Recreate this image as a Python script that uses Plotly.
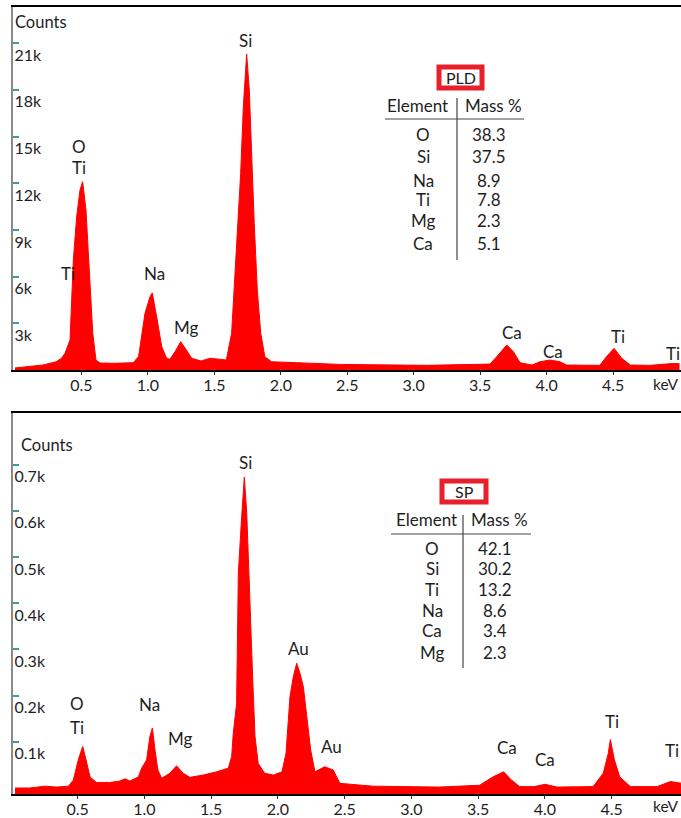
import plotly.graph_objects as go

# ---------------- data ----------------
# PLD spectrum (keV, counts)
pld_kev = [0.0, 0.1, 0.21, 0.31, 0.35, 0.376, 0.414, 0.439, 0.464, 0.489, 0.509, 0.534, 0.559, 0.585,
           0.609, 0.64, 0.75, 0.89, 0.93, 0.978, 1.016, 1.033, 1.066, 1.104, 1.141, 1.166, 1.204, 1.247,
           1.29, 1.33, 1.40, 1.467, 1.54, 1.59, 1.63, 1.655, 1.68, 1.698, 1.718, 1.743, 1.763, 1.781,
           1.80, 1.823, 1.849, 1.88, 1.93, 2.12, 2.445, 3.10, 3.574, 3.624, 3.70, 3.75, 3.80, 3.89,
           3.95, 4.025, 4.10, 4.15, 4.40, 4.45, 4.507, 4.565, 4.63, 4.78, 4.90, 4.95, 5.0]
pld_counts = [130, 220, 320, 530, 750, 1070, 1930, 7070, 9850, 11560, 12100, 10280, 6420, 2380,
              640, 450, 430, 470, 860, 3640, 4710, 4950, 3420, 1500, 750, 690, 1180, 1820,
              1280, 750, 580, 750, 690, 640, 2360, 6210, 10490, 12640, 16910, 20300, 17990, 13700,
              9420, 5140, 2360, 850, 530, 470, 360, 300, 380, 850, 1610, 1180, 470, 320,
              530, 640, 530, 320, 300, 850, 1390, 750, 320, 300, 380, 420, 400]

# SP spectrum (keV, counts)
sp_kev = [0.03, 0.14, 0.255, 0.34, 0.43, 0.467, 0.504, 0.53, 0.537, 0.562, 0.592, 0.64, 0.74, 0.816,
          0.854, 0.89, 0.954, 0.979, 1.016, 1.04, 1.059, 1.079, 1.10, 1.129, 1.19, 1.24, 1.29, 1.34,
          1.44, 1.54, 1.628, 1.653, 1.665, 1.69, 1.703, 1.728, 1.748, 1.766, 1.79, 1.81, 1.828, 1.852,
          1.90, 1.965, 2.03, 2.06, 2.09, 2.115, 2.14, 2.165, 2.19, 2.215, 2.245, 2.277, 2.35, 2.414,
          2.464, 2.71, 3.21, 3.51, 3.61, 3.69, 3.75, 3.81, 3.92, 4.0, 4.09, 4.36, 4.437, 4.474, 4.49,
          4.52, 4.56, 4.64, 4.84, 4.94, 5.03]
sp_counts = [0, 0, 4, 2, 4, 17, 61, 86, 90, 61, 24, 12, 12, 15,
             20, 15, 24, 43, 61, 111, 130, 82, 39, 21, 32, 48, 32, 23,
             28, 35, 43, 68, 118, 183, 465, 587, 673, 595, 385, 241, 111, 53,
             32, 28, 35, 75, 198, 241, 270, 248, 219, 154, 82, 35, 46, 39,
             10, 4, 2, 6, 24, 35, 17, 3, 3, 8, 2, 3, 32, 75, 105,
             61, 24, 3, 3, 14, 10]

x_tick_vals = [0.5, 1.0, 1.5, 2.0, 2.5, 3.0, 3.5, 4.0, 4.5]
x_tick_text = ["0.5", "1.0", "1.5", "2.0", "2.5", "3.0", "3.5", "4.0", "4.5"]
pld_y_tick_vals = [3000, 6000, 9000, 12000, 15000, 18000, 21000]
pld_y_tick_text = ["3k", "6k", "9k", "12k", "15k", "18k", "21k"]
sp_y_tick_vals = [100, 200, 300, 400, 500, 600, 700]
sp_y_tick_text = ["0.1k", "0.2k", "0.3k", "0.4k", "0.5k", "0.6k", "0.7k"]

# peak labels: (text, keV, counts)
pld_peak_labels = [("O", 0.482, 14390), ("Ti", 0.482, 12980), ("Ti", 0.399, 6170),
                   ("Na", 1.046, 6170), ("Mg", 1.287, 2700), ("Si", 1.731, 21200),
                   ("Ca", 3.74, 2380), ("Ca", 4.05, 1160), ("Ti", 4.535, 2180), ("Ti", 4.95, 1090)]
sp_peak_labels = [("O", 0.494, 182), ("Ti", 0.494, 132), ("Na", 1.034, 180), ("Mg", 1.266, 108),
                  ("Si", 1.76, 704), ("Au", 2.157, 301), ("Au", 2.404, 89), ("Ca", 3.715, 87),
                  ("Ca", 4.0, 61), ("Ti", 4.50, 143), ("Ti", 4.95, 82)]

# composition tables
pld_elements = ["O", "Si", "Na", "Ti", "Mg", "Ca"]
pld_mass = ["38.3", "37.5", "8.9", "7.8", "2.3", "5.1"]
sp_elements = ["O", "Si", "Ti", "Na", "Ca", "Mg"]
sp_mass = ["42.1", "30.2", "13.2", "8.6", "3.4", "2.3"]

# ---------------- style ----------------
W, H = 681, 818
FONT = "Lato"
TXT = "#1e1e1e"
SPEC_RED = "#ff0000"
BOX_RED = "#e8202a"
TEAL = "#3f9c9c"


def px(x):
    return min(1.0, max(0.0, x / W))


def py(y):
    return min(1.0, max(0.0, 1 - y / H))


fig = go.Figure()

# top spectrum
fig.add_trace(go.Scatter(x=pld_kev, y=pld_counts, mode="lines", fill="tozeroy",
                         line=dict(color=SPEC_RED, width=1), fillcolor=SPEC_RED,
                         xaxis="x", yaxis="y", showlegend=False, hoverinfo="skip"))
# bottom spectrum: fill down to the bottom of the axis range
sp_floor = -13
fig.add_trace(go.Scatter(x=[sp_kev[0], sp_kev[-1]], y=[sp_floor, sp_floor], mode="lines",
                         line=dict(color="rgba(0,0,0,0)", width=0),
                         xaxis="x2", yaxis="y2", showlegend=False, hoverinfo="skip"))
fig.add_trace(go.Scatter(x=sp_kev, y=sp_counts, mode="lines", fill="tonexty",
                         line=dict(color=SPEC_RED, width=1), fillcolor=SPEC_RED,
                         xaxis="x2", yaxis="y2", showlegend=False, hoverinfo="skip"))

xcommon = dict(showgrid=False, zeroline=False, showline=True, linecolor="black", linewidth=2,
               mirror=True, ticks="outside", ticklen=3, tickcolor="#333",
               tickvals=x_tick_vals, ticktext=x_tick_text,
               tickfont=dict(family=FONT, size=16, color=TXT), ticklabelstandoff=-3)
ycommon = dict(showgrid=False, zeroline=False, showline=True, linecolor="#8a8a8a", linewidth=1.5,
               ticks="inside", ticklen=6, tickwidth=1.5, tickcolor=TEAL,
               ticklabelposition="inside", ticklabelshift=12, ticklabelstandoff=-4,
               tickfont=dict(family=FONT, size=16, color=TXT))

fig.update_layout(
    width=W, height=H, margin=dict(l=0, r=0, t=0, b=0),
    paper_bgcolor="white", plot_bgcolor="white",
    font=dict(family=FONT, color=TXT),
    xaxis=dict(domain=[px(13), 1], range=[-0.015, 5.011], anchor="y", **xcommon),
    yaxis=dict(domain=[py(370), py(7)], range=[0, 23320], anchor="x",
               tickvals=pld_y_tick_vals, ticktext=pld_y_tick_text, **ycommon),
    xaxis2=dict(domain=[px(13), 1], range=[0.015, 5.019], anchor="y2", **xcommon),
    yaxis2=dict(domain=[py(794), py(413)], range=[sp_floor, 811.7], anchor="x2",
                tickvals=sp_y_tick_vals, ticktext=sp_y_tick_text, **ycommon),
)

ann = []


def label(text, x, y, xref="paper", yref="paper", size=17, xanchor="center"):
    ann.append(dict(text=text, x=x, y=y, xref=xref, yref=yref, showarrow=False,
                    xanchor=xanchor, yanchor="middle",
                    font=dict(family=FONT, size=size, color=TXT)))


for t, kx, cy in pld_peak_labels:
    label(t, kx, cy, "x", "y")
for t, kx, cy in sp_peak_labels:
    label(t, kx, cy, "x2", "y2")

# axis captions
for (xx, yy) in [(13, 22), (19, 445)]:
    label("Counts", px(xx), py(yy), size=16.5, xanchor="left")
for (xx, yy) in [(680, 384), (680, 806)]:
    label("keV", px(xx), py(yy), size=15.5, xanchor="right")

shapes = []


def add_table(title, box, hdr_y, elem_x, mass_x, row_ys, elems, masses, hline, vline):
    bx0, bx1, by0, by1 = box
    shapes.append(dict(type="rect", xref="paper", yref="paper",
                       x0=px(bx0), x1=px(bx1), y0=py(by1), y1=py(by0),
                       line=dict(color=BOX_RED, width=5), fillcolor="white"))
    label(title, px((bx0 + bx1) / 2), py((by0 + by1) / 2), size=16)
    label("Element", px(elem_x), py(hdr_y))
    label("Mass %", px(mass_x), py(hdr_y))
    for e, m, ry in zip(elems, masses, row_ys):
        label(e, px(elem_x + 6), py(ry))
        label(m, px(mass_x - 4), py(ry))
    hx0, hx1, hy = hline
    shapes.append(dict(type="line", xref="paper", yref="paper", x0=px(hx0), x1=px(hx1),
                       y0=py(hy), y1=py(hy), line=dict(color="#444", width=1.2)))
    vx, vy0, vy1 = vline
    shapes.append(dict(type="line", xref="paper", yref="paper", x0=px(vx), x1=px(vx),
                       y0=py(vy0), y1=py(vy1), line=dict(color="#444", width=1.2)))


add_table("PLD", (439, 482, 67, 88), 106, 417, 493, [134, 156, 180, 199, 220, 243],
          pld_elements, pld_mass, (385, 524, 119), (457, 98, 260))
add_table("SP", (442, 486, 481, 502), 519, 426, 499, [548, 568, 589, 610, 630, 652],
          sp_elements, sp_mass, (391, 531, 534), (463, 515, 668))

fig.update_layout(annotations=ann, shapes=shapes)

# place the figure at the page origin (no default body margin, no scrollbars)
fig.write_html("out.html", config={"displayModeBar": False},
               post_script="document.body.style.margin='0';"
                           "document.body.style.overflow='hidden';"
                           "document.documentElement.style.overflow='hidden';")
